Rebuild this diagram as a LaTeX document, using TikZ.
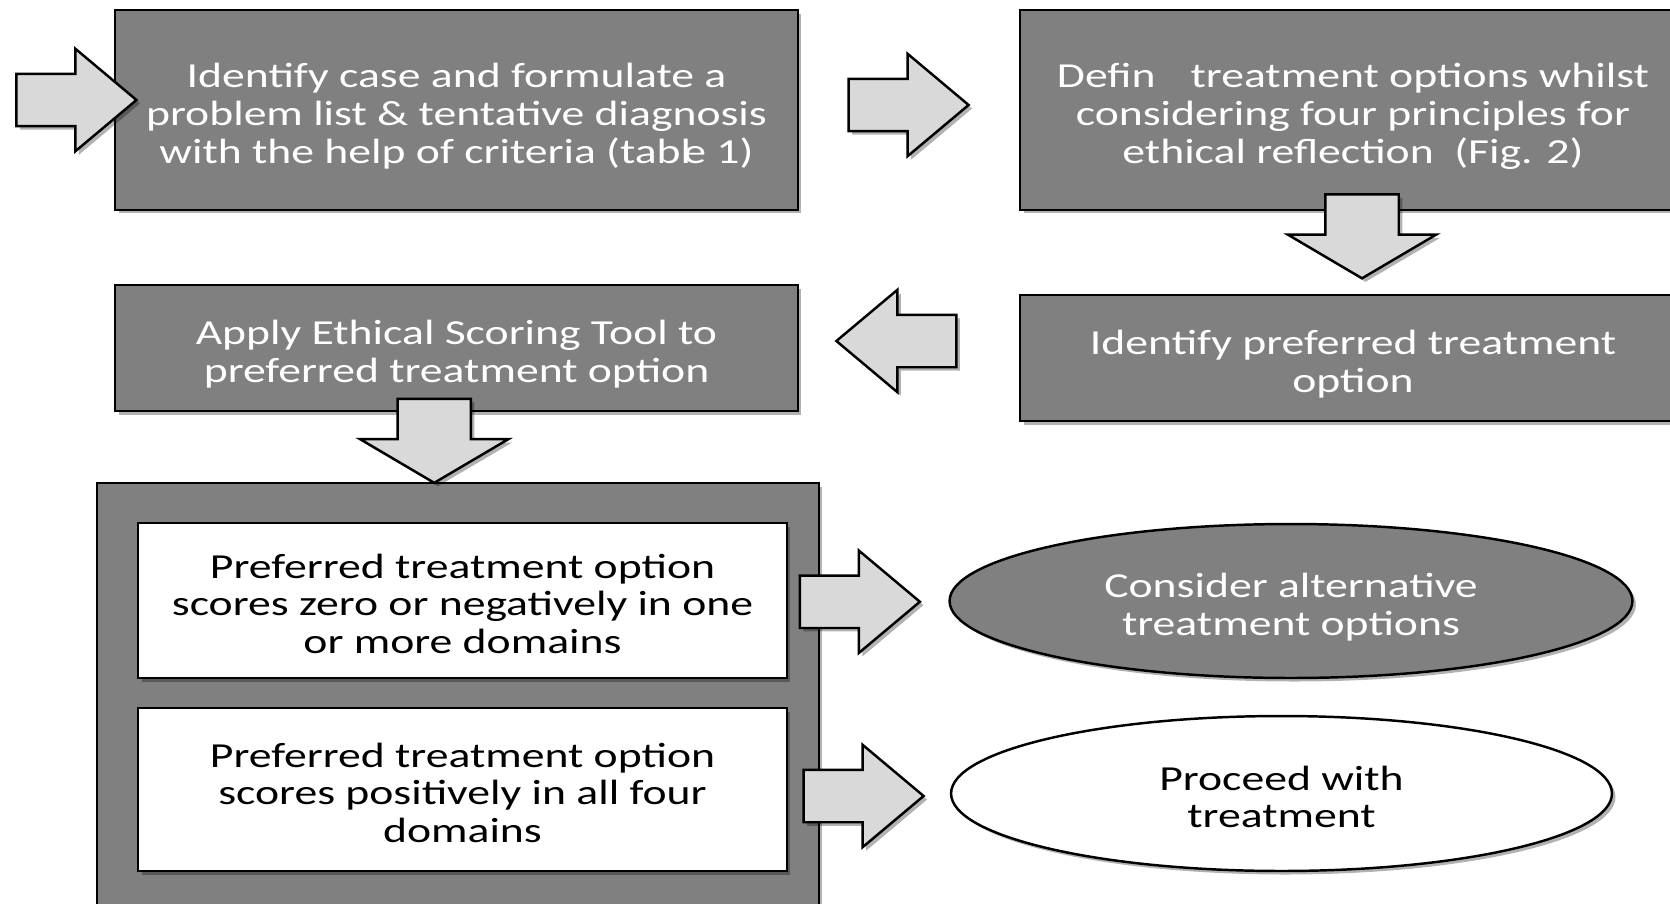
\documentclass[tikz,border=0pt]{standalone}
\usepackage{fontspec}
\setmainfont{Carlito}[FakeStretch=1.3]
\usetikzlibrary{calc,shapes.arrows,shapes.geometric,shadows}
\definecolor{boxGray}{RGB}{128,128,128}
\definecolor{arrowGray}{RGB}{217,217,217}
\newcommand{\boxlines}[1]{\raisebox{-4.5pt}[\height][\depth]{\begin{tabular}{@{}c@{}}#1\end{tabular}}}

\tikzset{
  softshadow/.style={drop shadow={shadow xshift=2pt,shadow yshift=-2pt,opacity=0.3,fill=black}},
  darkbox/.style={rectangle,draw=black,fill=boxGray,line width=1.4pt,text=white,
    inner sep=0pt,font=\fontsize{20}{21.5}\selectfont,softshadow},
  whitebox/.style={darkbox,fill=white,text=black},
  darkoval/.style={darkbox,ellipse},
  whiteoval/.style={whitebox,ellipse},
  harrow/.style={single arrow,draw=black,fill=arrowGray,line width=1.4pt,minimum height=2.4cm,
    inner xsep=0pt,inner ysep=0.5cm,single arrow head extend=0.5cm,single arrow tip angle=80,softshadow},
  varrow/.style={harrow,rotate=-90,minimum height=1.68cm,inner ysep=0.71cm,
    single arrow head extend=0.75cm,single arrow tip angle=119}
}

\begin{document}
\begin{tikzpicture}[x=0.02cm,y=-0.02cm]
\useasboundingbox (0,0) rectangle (1670,903);
\clip (0,0) rectangle (1670,903);

% upper rows
\node[darkbox,minimum width=13.66cm,minimum height=4cm] (ident) at (456.5,110)
  {\boxlines{Identify case and formulate a\\problem list \& tentative diagnosis\\with the help of criteria (tabl\kern-.22em e 1)}};
\node[darkbox,minimum width=13.32cm,minimum height=4cm] (define) at (1353,110)
  {\boxlines{Defin\hspace{1em}treatment options whilst\\considering four principles for\\ethical reflection\ \ (Fig. 2)}};
\node[darkbox,minimum width=13.32cm,minimum height=2.52cm] (prefer) at (1353,358)
  {\boxlines{Identify preferred treatment\\option}};
\node[darkbox,minimum width=13.66cm,minimum height=2.52cm] (apply) at (456.5,348)
  {\boxlines{Apply Ethical Scoring Tool to\\preferred treatment option}};

% scoring outcomes
\node[darkbox,minimum width=14.44cm,minimum height=8.94cm] (result) at (458,706.5) {};
\node[whitebox,minimum width=12.98cm,minimum height=3.1cm] (negscore) at (462.5,600.5)
  {\boxlines{Preferred treatment option\\scores zero or negatively in one\\or more domains}};
\node[whitebox,minimum width=12.98cm,minimum height=3.26cm] (posscore) at (462.5,789.5)
  {\boxlines{Preferred treatment option\\scores positively in all four\\domains}};
\node[darkoval,minimum width=13.66cm,minimum height=3.08cm] (alter) at (1291,601)
  {\boxlines{Consider alternative\\treatment options}};
\node[whiteoval,minimum width=13.22cm,minimum height=3.1cm] (proceed) at (1281.5,793.5)
  {\boxlines{Proceed with\\treatment}};

% block arrows
\node[harrow] (startarrow) at ($(ident.west)+(-53,-10)$) {};
\node[harrow] (identarrow) at ($(ident.east)!0.5!(define.west)+(-16,-5)$) {};
\node[varrow] (definearrow) at ($(define.south)!0.5!(prefer.north)+(9,-27)$) {};
\node[harrow,rotate=180] (preferarrow) at ($(apply.east)!0.5!(prefer.west)+(3,-12)$) {};
\node[varrow] (applyarrow) at ($(apply.south)!0.5!(result.north)+(-23,-17)$) {};
\node[harrow] (negarrow) at ($(negscore.east)!0.5!(alter.west)+(-24,1)$) {};
\node[harrow] (posarrow) at ($(posscore.east)!0.5!(proceed.west)+(-21,4.5)$) {};
\end{tikzpicture}
\end{document}
